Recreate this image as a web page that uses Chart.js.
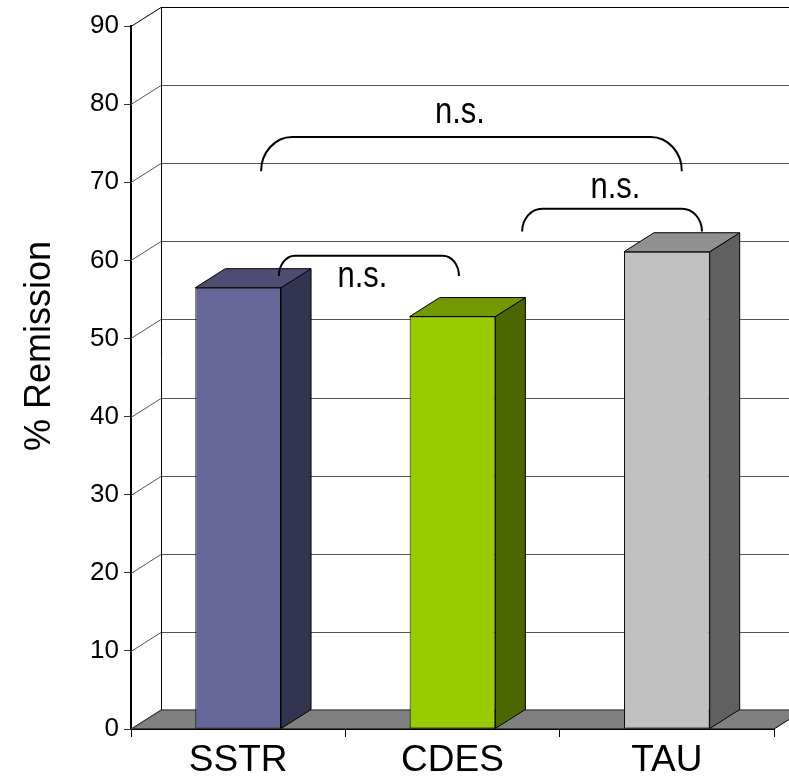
<!DOCTYPE html>
<html>
<head>
<meta charset="utf-8">
<script src="https://cdn.jsdelivr.net/npm/chart.js@4"></script>
<style>
  body { margin: 0; background: #fff; }
  #wrap { width: 789px; height: 780px; position: relative; }
</style>
</head>
<body>
<div id="wrap"><canvas id="remission-chart"></canvas></div>
<script>
// values
const categories = ["SSTR", "CDES", "TAU"];
const remission = [56.5, 52.8, 61.1];
const yMin = 0;
const yMax = 90;
const yStep = 10;

const frontColors = ["#666699", "#99cc00", "#c0c0c0"];
const sideColors = ["#333352", "#4c6600", "#606060"];
const topColors = ["#4d4d74", "#739900", "#909090"];

// significance brackets: x in category units, y in % units
const brackets = [
  { from: 0.107, to: 2.07, end: 71.4, top: 75.8, r: 31, labelX: 1.035, labelY: 77.6, text: "n.s." },
  { from: 0.19, to: 1.03, end: 58.0, top: 60.6, r: 16, labelX: 0.58, labelY: 56.6, text: "n.s." },
  { from: 1.325, to: 2.164, end: 63.7, top: 66.6, r: 20, labelX: 1.76, labelY: 68.0, text: "n.s." },
];

const FONT = "'Liberation Sans', Arial, sans-serif";
const DX = 30;
const DY = -19;

function catPixel(scale, v) {
  const p0 = scale.getPixelForValue(0);
  const step = scale.getPixelForValue(1) - p0;
  return p0 + v * step;
}

const wallPlugin = {
  id: "wall3d",
  beforeDatasetsDraw(chart) {
    const ctx = chart.ctx;
    const { left, right, top, bottom } = chart.chartArea;
    const y = chart.scales.y;
    const W = chart.width;
    ctx.save();
    // floor
    ctx.fillStyle = "#808080";
    ctx.strokeStyle = "#000";
    ctx.lineWidth = 1;
    ctx.beginPath();
    ctx.moveTo(left, bottom);
    ctx.lineTo(right, bottom);
    ctx.lineTo(right + DX, bottom + DY);
    ctx.lineTo(left + DX, bottom + DY);
    ctx.closePath();
    ctx.fill();
    ctx.stroke();
    // back grid + side wall diagonals
    for (let v = yMin; v <= yMax; v += yStep) {
      const py = Math.round(y.getPixelForValue(v)) + 0.5;
      ctx.strokeStyle = v === yMax ? "#000" : "#555";
      ctx.beginPath();
      ctx.moveTo(left, py);
      ctx.lineTo(left + DX, py + DY);
      ctx.lineTo(W, py + DY);
      ctx.stroke();
    }
    // back wall left edge
    ctx.strokeStyle = "#000";
    ctx.beginPath();
    ctx.moveTo(left + DX + 0.5, top + DY);
    ctx.lineTo(left + DX + 0.5, bottom + DY);
    ctx.stroke();
    ctx.restore();
  },
  afterDatasetsDraw(chart) {
    const ctx = chart.ctx;
    const meta = chart.getDatasetMeta(0);
    ctx.save();
    ctx.strokeStyle = "#000";
    ctx.lineWidth = 1;
    meta.data.forEach((bar, i) => {
      const x0 = bar.x - bar.width / 2;
      const x1 = bar.x + bar.width / 2;
      const yt = bar.y;
      const yb = bar.base;
      // side face
      ctx.fillStyle = sideColors[i];
      ctx.beginPath();
      ctx.moveTo(x1, yt);
      ctx.lineTo(x1 + DX, yt + DY);
      ctx.lineTo(x1 + DX, yb + DY);
      ctx.lineTo(x1, yb);
      ctx.closePath();
      ctx.fill();
      ctx.stroke();
      // top face
      ctx.fillStyle = topColors[i];
      ctx.beginPath();
      ctx.moveTo(x0, yt);
      ctx.lineTo(x1, yt);
      ctx.lineTo(x1 + DX, yt + DY);
      ctx.lineTo(x0 + DX, yt + DY);
      ctx.closePath();
      ctx.fill();
      ctx.stroke();
    });
    ctx.restore();
  },
  afterDraw(chart) {
    const ctx = chart.ctx;
    const xs = chart.scales.x;
    const ys = chart.scales.y;
    ctx.save();
    // brackets
    ctx.strokeStyle = "#000";
    ctx.lineWidth = 2;
    ctx.fillStyle = "#000";
    ctx.textAlign = "center";
    ctx.textBaseline = "alphabetic";
    brackets.forEach((b) => {
      const xa = catPixel(xs, b.from);
      const xb = catPixel(xs, b.to);
      const ye = ys.getPixelForValue(b.end);
      const yt = ys.getPixelForValue(b.top);
      const h = ye - yt;
      const r = b.r;
      const k = 0.55;
      ctx.beginPath();
      ctx.moveTo(xa, ye);
      ctx.bezierCurveTo(xa, ye - k * h, xa + r - k * r, yt, xa + r, yt);
      ctx.lineTo(xb - r, yt);
      ctx.bezierCurveTo(xb - r + k * r, yt, xb, ye - k * h, xb, ye);
      ctx.stroke();
      // label, a bit taller than wide like the original
      ctx.save();
      ctx.translate(catPixel(xs, b.labelX), ys.getPixelForValue(b.labelY));
      ctx.scale(1, 1.18);
      ctx.font = "31px " + FONT;
      ctx.fillText(b.text, 0, 0);
      ctx.restore();
    });
    // y axis title
    ctx.font = "36px " + FONT;
    ctx.textBaseline = "middle";
    ctx.translate(40, 346);
    ctx.rotate(-Math.PI / 2);
    ctx.fillText("% Remission", 0, 0);
    ctx.restore();
  },
};

new Chart(document.getElementById("remission-chart").getContext("2d"), {
  type: "bar",
  data: {
    labels: categories,
    datasets: [
      {
        label: "% Remission",
        data: remission,
        backgroundColor: frontColors,
        borderColor: "#000",
        borderWidth: 1,
        borderSkipped: false,
        categoryPercentage: 1,
        barPercentage: 0.4,
      },
    ],
  },
  options: {
    responsive: true,
    maintainAspectRatio: false,
    animation: false,
    layout: { padding: { top: 26, right: 15, left: 0, bottom: 0 } },
    plugins: {
      legend: { display: false },
      tooltip: { enabled: false },
    },
    scales: {
      x: {
        afterFit(scale) { scale.height = 51; },
        grid: {
          offset: true,
          drawOnChartArea: false,
          drawTicks: true,
          tickLength: 8,
          color: "#000",
        },
        border: { display: true, color: "#000" },
        ticks: {
          color: "#000",
          font: { family: FONT, size: 37 },
          padding: 2,
        },
      },
      y: {
        min: yMin,
        max: yMax,
        afterFit(scale) { scale.width = 131; },
        grid: {
          drawOnChartArea: false,
          drawTicks: true,
          tickLength: 7,
          color: "#333",
        },
        border: { display: true, color: "#000", width: 2 },
        ticks: {
          stepSize: yStep,
          color: "#000",
          font: { family: FONT, size: 26 },
          padding: 5,
        },
      },
    },
  },
  plugins: [wallPlugin],
});
</script>
</body>
</html>
